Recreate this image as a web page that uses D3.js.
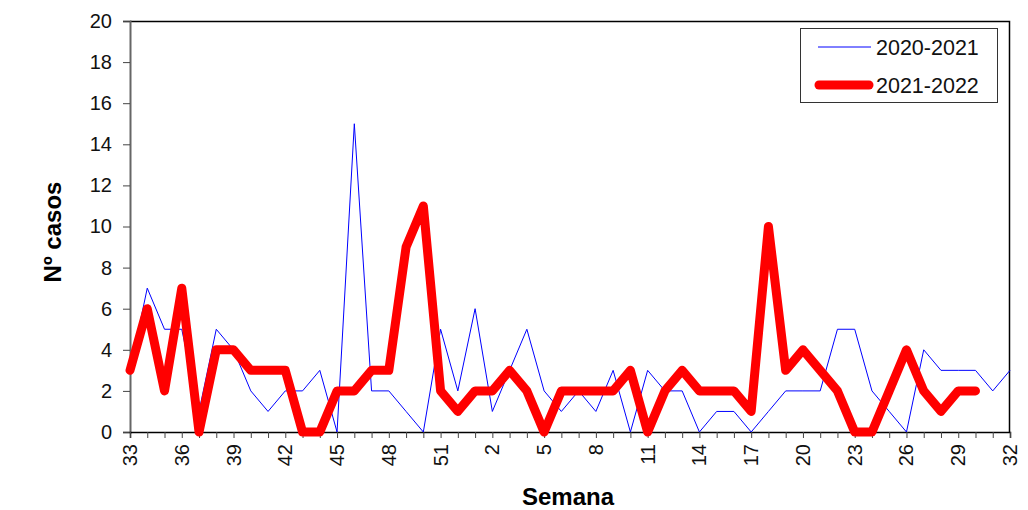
<!DOCTYPE html>
<html lang="es">
<head>
  <meta charset="utf-8">
  <title>Nº casos por semana</title>
  <script src="https://cdn.jsdelivr.net/npm/d3@7"></script>
  <style>
    body { margin: 0; background: #fff; }
    text { font-family: "Liberation Sans", Arial, sans-serif; }
  </style>
</head>
<body>
  <svg class="chart" width="1028" height="510"></svg>
  <script>
    var weeks = [33, 34, 35, 36, 37, 38, 39, 40, 41, 42, 43, 44, 45, 46, 47, 48, 49, 50, 51, 52,
                 1, 2, 3, 4, 5, 6, 7, 8, 9, 10, 11, 12, 13, 14, 15, 16, 17, 18, 19, 20,
                 21, 22, 23, 24, 25, 26, 27, 28, 29, 30, 31, 32];

    var season2020 = [3, 7, 5, 5, 1, 5, 4, 2, 1, 2, 2, 3, 0, 15, 2, 2, 1, 0, 5, 2,
                      6, 1, 3, 5, 2, 1, 2, 1, 3, 0, 3, 2, 2, 0, 1, 1, 0, 1, 2, 2,
                      2, 5, 5, 2, 1, 0, 4, 3, 3, 3, 2, 3];

    var season2021 = [3, 6, 2, 7, 0, 4, 4, 3, 3, 3, 0, 0, 2, 2, 3, 3, 9, 11, 2, 1,
                      2, 2, 3, 2, 0, 2, 2, 2, 2, 3, 0, 2, 3, 2, 2, 2, 1, 10, 3, 4,
                      3, 2, 0, 0, 2, 4, 2, 1, 2, 2];

    var seriesNames = ["2020-2021", "2021-2022"];
    var yTicks = [0, 2, 4, 6, 8, 10, 12, 14, 16, 18, 20];

    var plotLeft = 130, plotRight = 1010, plotTop = 21, plotBottom = 432;

    var x = d3.scaleLinear()
              .domain([0, weeks.length - 1])
              .range([plotLeft, plotRight]);

    var y = d3.scaleLinear()
              .domain([0, 20])
              .range([plotBottom, plotTop]);

    var svg = d3.select("svg.chart");

    // plot frame (top and right)
    svg.append("path")
       .attr("d", "M" + plotLeft + "," + (plotTop + 0.5) + "H" + (plotRight - 0.5) + "V" + plotBottom)
       .attr("fill", "none")
       .attr("stroke", "#000")
       .attr("stroke-width", 1.5);

    // y axis
    var yAxis = svg.append("g")
       .attr("transform", "translate(" + plotLeft + ",0)")
       .call(d3.axisLeft(y).tickValues(yTicks).tickSize(7).tickPadding(11));
    yAxis.select(".domain").attr("stroke", "#666").attr("stroke-width", 2);
    yAxis.selectAll(".tick line").attr("stroke", "#444");
    yAxis.selectAll("text")
         .attr("font-size", 20)
         .attr("fill", "#111")
         .style("font-family", "'Liberation Sans', Arial, sans-serif");

    // x axis: minor tick for every week, label every third
    var xAxis = svg.append("g")
       .attr("transform", "translate(0," + plotBottom + ")")
       .call(d3.axisBottom(x).tickValues(d3.range(weeks.length)).tickSize(6).tickFormat(""));
    xAxis.select(".domain").attr("stroke", "#000").attr("stroke-width", 1.5);
    xAxis.selectAll(".tick line").attr("stroke", "#444");

    svg.append("g").selectAll("text")
       .data(d3.range(0, weeks.length, 3))
       .enter().append("text")
       .attr("transform", function(i) { return "translate(" + x(i) + ",444) rotate(-90)"; })
       .attr("text-anchor", "end")
       .attr("dy", "0.35em")
       .attr("font-size", 20)
       .attr("fill", "#111")
       .text(function(i) { return weeks[i]; });

    // lines
    var line = d3.line()
                 .x(function(d, i) { return x(i); })
                 .y(function(d) { return y(d); });

    svg.append("path")
       .datum(season2020)
       .attr("d", line)
       .attr("fill", "none")
       .attr("stroke", "#0000ff")
       .attr("stroke-width", 1);

    svg.append("path")
       .datum(season2021)
       .attr("d", line)
       .attr("fill", "none")
       .attr("stroke", "#ff0000")
       .attr("stroke-width", 9)
       .attr("stroke-linejoin", "round")
       .attr("stroke-linecap", "round");

    // axis titles
    svg.append("text")
       .attr("x", 568)
       .attr("y", 505)
       .attr("text-anchor", "middle")
       .attr("font-size", 24)
       .attr("font-weight", "bold")
       .text("Semana");

    svg.append("text")
       .attr("transform", "translate(61,232) rotate(-90)")
       .attr("text-anchor", "middle")
       .attr("font-size", 24)
       .attr("font-weight", "bold")
       .text("Nº casos");

    // legend
    var legend = svg.append("g").attr("transform", "translate(800,28)");
    legend.append("rect")
          .attr("x", 0.5).attr("y", 0.5)
          .attr("width", 197).attr("height", 74)
          .attr("fill", "#fff")
          .attr("stroke", "#333")
          .attr("stroke-width", 1);

    var legendStyle = [{ color: "#0000ff", width: 1, cap: "butt" },
                       { color: "#ff0000", width: 9, cap: "round" }];

    seriesNames.forEach(function(name, k) {
      var ly = 19 + k * 38;
      legend.append("line")
            .attr("x1", k ? 19 : 18).attr("x2", k ? 69 : 71)
            .attr("y1", ly).attr("y2", ly)
            .attr("stroke", legendStyle[k].color)
            .attr("stroke-width", legendStyle[k].width)
            .attr("stroke-linecap", legendStyle[k].cap);
      legend.append("text")
            .attr("x", 76)
            .attr("y", ly)
            .attr("dy", "0.35em")
            .attr("font-size", 21.5)
            .attr("fill", "#111")
            .text(name);
    });
  </script>
</body>
</html>
